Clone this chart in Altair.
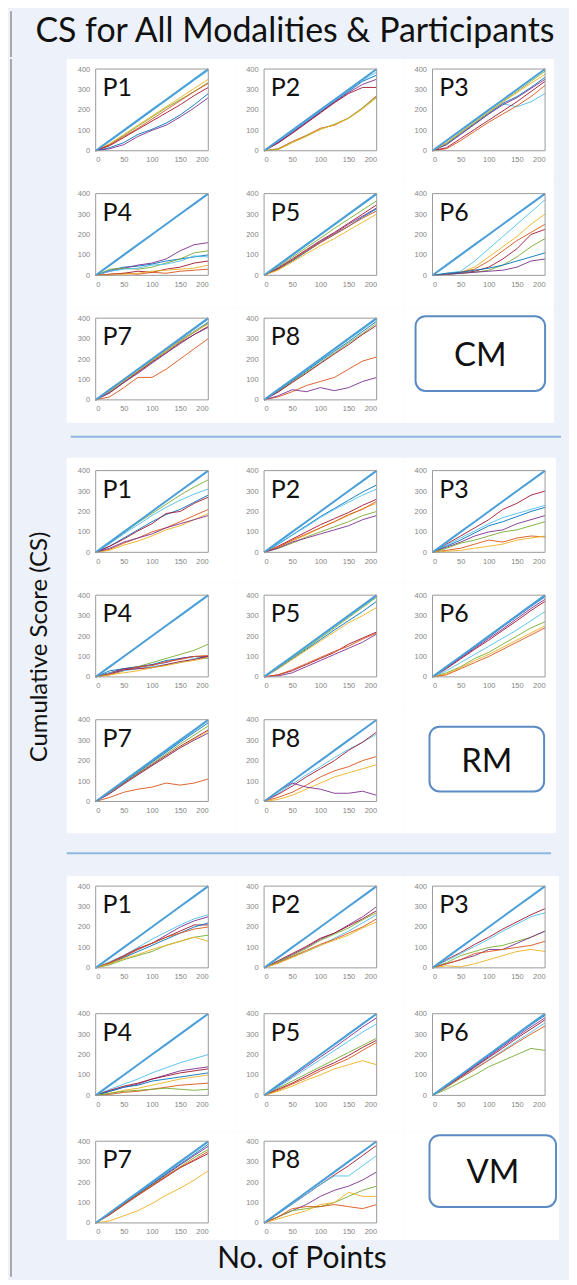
import altair as alt
import pandas as pd

# ---------------- data ----------------
X_POINTS = [0, 25, 50, 75, 100, 125, 150, 175, 200]
IDEAL = [0, 50, 100, 150, 200, 250, 300, 350, 400]
X_TICKS = [0, 50, 100, 150, 200]
Y_TICKS = [0, 100, 200, 300, 400]
SERIES = ["blue", "orange", "yellow", "purple", "green", "lightblue", "red"]
SERIES_COLORS = ["#0072BD", "#D95319", "#EDB120", "#7E2F8E", "#77AC30", "#4DBEEE", "#A2142F"]
IDEAL_COLOR = "#4A9FD9"
PANEL_NAMES = ["P1", "P2", "P3", "P4", "P5", "P6", "P7", "P8"]
MODALITIES = ["CM", "RM", "VM"]
TITLE = "CS for All Modalities & Participants"
Y_TITLE = "Cumulative Score (CS)"
X_TITLE = "No. of Points"

# ---- CM ----
CM_P1 = {
    "lightblue": [0, 45, 95, 145, 195, 245, 295, 345, 392],
    "green": [0, 30, 75, 120, 165, 210, 250, 290, 335],
    "yellow": [0, 35, 80, 125, 170, 215, 260, 305, 350],
    "orange": [0, 30, 70, 110, 155, 200, 245, 290, 330],
    "red": [0, 25, 65, 105, 145, 185, 225, 270, 310],
    "blue": [0, 15, 40, 80, 105, 135, 175, 225, 280],
    "purple": [0, 10, 30, 70, 100, 125, 165, 210, 260],
}
CM_P2 = {
    "lightblue": [0, 45, 95, 145, 195, 245, 295, 345, 385],
    "blue": [0, 40, 90, 140, 190, 240, 290, 340, 370],
    "purple": [0, 40, 88, 138, 188, 238, 285, 325, 350],
    "red": [0, 38, 85, 135, 185, 235, 280, 310, 310],
    "orange": [0, 10, 45, 75, 110, 125, 160, 210, 270],
    "green": [0, 8, 40, 72, 105, 130, 160, 210, 265],
    "yellow": [0, 5, 40, 70, 105, 128, 158, 205, 260],
}
CM_P3 = {
    "lightblue": [0, 30, 80, 130, 180, 230, 215, 240, 280],
    "blue": [0, 35, 85, 135, 185, 232, 265, 310, 360],
    "purple": [0, 30, 80, 130, 180, 225, 260, 305, 350],
    "orange": [0, 10, 50, 95, 140, 180, 220, 265, 320],
    "red": [0, 15, 60, 105, 150, 195, 240, 290, 340],
    "green": [0, 40, 90, 140, 190, 240, 290, 340, 390],
    "yellow": [0, 38, 88, 138, 188, 238, 285, 330, 375],
}
CM_P4 = {
    "blue": [0, 25, 40, 45, 55, 70, 80, 90, 100],
    "purple": [0, 20, 35, 50, 60, 80, 120, 150, 160],
    "green": [0, 30, 35, 30, 40, 60, 80, 110, 120],
    "lightblue": [0, 20, 30, 35, 50, 55, 70, 95, 90],
    "red": [0, 5, 10, 20, 15, 30, 40, 60, 70],
    "orange": [0, 5, 10, 5, 15, 10, 20, 25, 30],
    "yellow": [0, 0, 5, 10, 20, 25, 30, 35, 50],
}
CM_P5 = {
    "lightblue": [0, 45, 95, 145, 195, 245, 295, 345, 395],
    "green": [0, 40, 88, 135, 182, 230, 275, 320, 365],
    "red": [0, 35, 80, 125, 170, 210, 255, 300, 345],
    "purple": [0, 35, 75, 120, 165, 205, 250, 290, 330],
    "blue": [0, 30, 70, 115, 160, 200, 240, 285, 325],
    "orange": [0, 30, 75, 118, 160, 200, 240, 280, 315],
    "yellow": [0, 25, 65, 105, 145, 180, 220, 260, 300],
}
CM_P6 = {
    "lightblue": [0, 10, 20, 70, 130, 190, 250, 310, 370],
    "yellow": [0, 5, 15, 40, 90, 140, 190, 250, 300],
    "orange": [0, 5, 15, 30, 70, 120, 170, 210, 250],
    "red": [0, 5, 10, 20, 40, 80, 130, 200, 225],
    "green": [0, 5, 10, 15, 25, 50, 90, 140, 180],
    "purple": [0, 5, 10, 15, 20, 25, 40, 70, 80],
    "blue": [0, 10, 15, 25, 35, 50, 70, 90, 110],
}
CM_P7 = {
    "lightblue": [0, 45, 95, 145, 195, 245, 295, 345, 395],
    "blue": [0, 42, 92, 140, 190, 240, 290, 335, 380],
    "green": [0, 40, 90, 138, 188, 236, 285, 330, 375],
    "yellow": [0, 42, 92, 140, 190, 240, 288, 335, 370],
    "red": [0, 35, 85, 135, 185, 230, 280, 320, 360],
    "purple": [0, 35, 85, 130, 180, 228, 275, 320, 355],
    "orange": [0, 15, 60, 110, 110, 150, 200, 250, 300],
}
CM_P8 = {
    "lightblue": [0, 45, 95, 145, 195, 245, 295, 345, 395],
    "blue": [0, 43, 92, 140, 190, 238, 285, 335, 385],
    "green": [0, 40, 88, 135, 182, 230, 278, 325, 375],
    "red": [0, 38, 85, 130, 178, 225, 270, 320, 365],
    "orange": [0, 15, 40, 70, 90, 110, 150, 190, 210],
    "purple": [0, 20, 50, 40, 60, 45, 60, 90, 110],
}

# ---- RM ----
RM_P1 = {
    "green": [0, 45, 95, 145, 190, 235, 280, 320, 355],
    "lightblue": [0, 42, 90, 135, 180, 220, 255, 285, 310],
    "blue": [0, 30, 70, 110, 150, 185, 210, 245, 280],
    "red": [0, 30, 65, 105, 140, 190, 200, 240, 270],
    "orange": [0, 15, 45, 70, 100, 120, 150, 180, 210],
    "yellow": [0, 10, 35, 55, 80, 110, 130, 160, 190],
    "purple": [0, 20, 50, 70, 90, 120, 140, 160, 180],
}
RM_P2 = {
    "blue": [0, 40, 85, 130, 175, 215, 255, 295, 330],
    "lightblue": [0, 40, 85, 125, 170, 210, 245, 280, 310],
    "red": [0, 30, 65, 100, 135, 165, 195, 230, 260],
    "yellow": [0, 25, 55, 85, 120, 150, 180, 215, 240],
    "orange": [0, 25, 60, 90, 120, 150, 185, 210, 250],
    "green": [0, 20, 45, 75, 100, 125, 150, 180, 200],
    "purple": [0, 20, 50, 70, 90, 110, 130, 160, 180],
}
RM_P3 = {
    "red": [0, 40, 80, 120, 160, 210, 240, 280, 300],
    "lightblue": [0, 35, 70, 105, 140, 170, 190, 210, 230],
    "blue": [0, 30, 60, 95, 130, 150, 175, 200, 220],
    "purple": [0, 25, 50, 80, 100, 110, 140, 160, 180],
    "green": [0, 20, 45, 60, 80, 100, 110, 130, 150],
    "orange": [0, 10, 20, 40, 60, 50, 70, 80, 75],
    "yellow": [0, 5, 10, 20, 30, 40, 60, 70, 80],
}
RM_P4 = {
    "green": [0, 20, 40, 50, 70, 90, 110, 130, 160],
    "blue": [0, 30, 40, 50, 60, 80, 90, 100, 90],
    "purple": [0, 20, 40, 45, 60, 70, 90, 100, 100],
    "orange": [0, 10, 30, 50, 55, 75, 85, 100, 105],
    "lightblue": [0, 20, 30, 40, 50, 60, 70, 90, 90],
    "red": [0, 15, 35, 40, 45, 60, 75, 85, 100],
    "yellow": [0, 10, 20, 30, 45, 55, 70, 80, 95],
}
RM_P5 = {
    "lightblue": [0, 45, 95, 145, 195, 245, 295, 345, 395],
    "green": [0, 45, 93, 140, 190, 240, 290, 340, 390],
    "blue": [0, 40, 88, 135, 182, 230, 275, 320, 370],
    "yellow": [0, 40, 85, 130, 175, 220, 265, 300, 340],
    "red": [0, 10, 30, 60, 90, 120, 160, 190, 220],
    "purple": [0, 5, 20, 50, 80, 110, 140, 170, 210],
    "orange": [0, 10, 35, 65, 95, 125, 150, 185, 215],
}
RM_P6 = {
    "blue": [0, 45, 95, 145, 195, 245, 295, 345, 392],
    "purple": [0, 45, 92, 140, 188, 235, 285, 335, 380],
    "red": [0, 40, 88, 135, 180, 228, 275, 325, 370],
    "lightblue": [0, 30, 70, 110, 150, 190, 230, 275, 320],
    "green": [0, 20, 50, 90, 120, 160, 200, 240, 270],
    "yellow": [0, 15, 45, 80, 110, 145, 180, 215, 250],
    "orange": [0, 10, 40, 70, 100, 135, 170, 205, 240],
}
RM_P7 = {
    "lightblue": [0, 45, 95, 145, 195, 245, 295, 345, 395],
    "blue": [0, 45, 94, 143, 192, 240, 290, 338, 385],
    "green": [0, 42, 90, 138, 185, 232, 280, 325, 370],
    "red": [0, 40, 88, 135, 180, 225, 270, 310, 350],
    "yellow": [0, 40, 86, 132, 175, 220, 265, 305, 345],
    "purple": [0, 38, 85, 130, 175, 218, 262, 300, 335],
    "orange": [0, 20, 45, 60, 70, 90, 80, 90, 110],
}
RM_P8 = {
    "lightblue": [0, 40, 85, 130, 170, 215, 255, 290, 330],
    "red": [0, 35, 75, 120, 160, 200, 250, 290, 340],
    "orange": [0, 20, 45, 80, 120, 150, 170, 200, 220],
    "yellow": [0, 10, 30, 60, 90, 120, 140, 160, 180],
    "purple": [0, 50, 90, 70, 60, 40, 40, 50, 30],
}

# ---- VM ----
VM_P1 = {
    "lightblue": [0, 30, 60, 100, 140, 175, 210, 240, 260],
    "purple": [0, 25, 55, 90, 120, 160, 200, 230, 250],
    "red": [0, 25, 60, 95, 120, 150, 180, 210, 210],
    "blue": [0, 20, 50, 80, 110, 140, 170, 200, 220],
    "orange": [0, 25, 55, 90, 120, 150, 170, 190, 200],
    "green": [0, 15, 40, 60, 80, 110, 130, 150, 160],
    "yellow": [0, 20, 45, 65, 90, 110, 130, 150, 130],
}
VM_P2 = {
    "purple": [0, 30, 65, 100, 140, 170, 210, 250, 300],
    "red": [0, 35, 70, 105, 145, 170, 205, 240, 280],
    "green": [0, 30, 60, 95, 135, 165, 195, 235, 270],
    "lightblue": [0, 25, 55, 80, 110, 145, 180, 220, 260],
    "orange": [0, 25, 55, 85, 115, 140, 170, 200, 240],
    "yellow": [0, 22, 50, 80, 110, 135, 160, 195, 225],
}
VM_P3 = {
    "red": [0, 40, 75, 115, 150, 190, 225, 260, 290],
    "lightblue": [0, 35, 70, 105, 140, 180, 215, 250, 270],
    "green": [0, 25, 60, 80, 100, 110, 130, 150, 180],
    "purple": [0, 20, 40, 60, 90, 90, 120, 150, 180],
    "orange": [0, 20, 40, 70, 80, 90, 100, 110, 130],
    "yellow": [0, 10, 5, 20, 40, 60, 80, 90, 80],
}
VM_P4 = {
    "lightblue": [0, 30, 55, 80, 110, 135, 160, 180, 200],
    "purple": [0, 20, 40, 55, 80, 100, 120, 130, 140],
    "red": [0, 25, 45, 60, 80, 95, 110, 120, 130],
    "blue": [0, 20, 40, 50, 70, 80, 90, 100, 110],
    "yellow": [0, 10, 25, 35, 50, 65, 80, 90, 100],
    "orange": [0, 5, 15, 20, 30, 40, 50, 55, 60],
    "green": [0, 10, 20, 25, 30, 35, 30, 25, 30],
}
VM_P5 = {
    "purple": [0, 45, 92, 140, 188, 235, 285, 335, 380],
    "lightblue": [0, 40, 85, 130, 175, 220, 265, 310, 350],
    "green": [0, 35, 70, 105, 140, 175, 210, 245, 280],
    "red": [0, 30, 60, 95, 130, 160, 195, 235, 270],
    "orange": [0, 25, 55, 85, 120, 150, 180, 220, 260],
    "yellow": [0, 20, 45, 75, 100, 130, 150, 170, 150],
}
VM_P6 = {
    "blue": [0, 45, 95, 145, 195, 245, 295, 345, 392],
    "purple": [0, 45, 93, 142, 190, 240, 288, 335, 380],
    "red": [0, 43, 90, 138, 185, 232, 280, 325, 370],
    "lightblue": [0, 40, 85, 130, 175, 220, 265, 310, 355],
    "orange": [0, 40, 85, 128, 172, 215, 258, 300, 340],
    "green": [0, 30, 65, 100, 140, 170, 200, 230, 220],
}
VM_P7 = {
    "lightblue": [0, 45, 95, 145, 195, 245, 295, 345, 395],
    "blue": [0, 45, 93, 142, 190, 240, 288, 336, 385],
    "purple": [0, 45, 92, 140, 188, 236, 284, 330, 375],
    "green": [0, 42, 90, 138, 185, 230, 275, 320, 360],
    "red": [0, 40, 88, 135, 180, 225, 270, 305, 340],
    "orange": [0, 42, 89, 136, 182, 228, 272, 310, 350],
    "yellow": [0, 10, 35, 60, 95, 135, 170, 210, 255],
}
VM_P8 = {
    "red": [0, 45, 93, 140, 188, 235, 280, 330, 380],
    "lightblue": [0, 45, 92, 140, 188, 230, 230, 280, 330],
    "purple": [0, 30, 60, 90, 130, 160, 180, 210, 250],
    "green": [0, 30, 60, 70, 80, 100, 130, 160, 180],
    "yellow": [0, 20, 40, 60, 90, 100, 150, 130, 130],
    "orange": [0, 30, 70, 80, 80, 90, 80, 70, 90],
}

GROUPS = {
    "CM": [CM_P1, CM_P2, CM_P3, CM_P4, CM_P5, CM_P6, CM_P7, CM_P8],
    "RM": [RM_P1, RM_P2, RM_P3, RM_P4, RM_P5, RM_P6, RM_P7, RM_P8],
    "VM": [VM_P1, VM_P2, VM_P3, VM_P4, VM_P5, VM_P6, VM_P7, VM_P8],
}

# ---------------- layout ----------------
BG = "#edf1f9"
FONT = "Lato"
BX = 29          # box left offset inside a cell
BW = 113         # box width
BH = 82          # box height
MID_W = 496
LEFT_W = 58
RIGHT_W = 7
TOTAL_W = LEFT_W + MID_W + RIGHT_W   # 561: fits the page body
TITLE_H = 47
XLAB_H = 37

GROUP_LAYOUT = {
    # row heights, column widths, box top offset, label box (x0, x1, y0, y1, text baseline)
    "CM": dict(rows=[125, 125, 115], cols=[169, 169, 151], by=10, lbl=(12, 142, 8, 83, 58)),
    "RM": dict(rows=[125, 125, 127], cols=[169, 169, 153], by=13, lbl=(26, 141, 20, 85, 65)),
    "VM": dict(rows=[128, 128, 109], cols=[169, 169, 156], by=10, lbl=(26, 153, 4, 76, 52)),
}
SEP = [dict(h=35, y=14, x0=4, x1=496), dict(h=43, y=20, x0=0, x1=486)]

color_scale = alt.Scale(domain=SERIES, range=SERIES_COLORS)


def panel(curves, name, cw, ch, by):
    rows = []
    for s, vals in curves.items():
        for xv, yv in zip(X_POINTS, vals):
            rows.append({"x": xv, "y": yv, "series": s})
    df = pd.DataFrame(rows)
    ideal = pd.DataFrame({"x": X_POINTS, "y": IDEAL})
    xs = alt.Scale(domain=[0, 200], range=[BX, BX + BW], nice=False)
    ys = alt.Scale(domain=[0, 400], range=[by + BH, by], nice=False)
    common = dict(grid=False, domain=False, ticks=False, title=None,
                  labelFontSize=7.5, labelColor="#858585", labelFont="Liberation Sans")
    xax = alt.Axis(values=X_TICKS, labelPadding=5, offset=-(ch - (by + BH)), **common)
    yax = alt.Axis(values=Y_TICKS, labelPadding=6, offset=-BX, **common)
    ex = alt.X("x:Q", scale=xs, axis=xax)
    ey = alt.Y("y:Q", scale=ys, axis=yax)
    lines = alt.Chart(df).mark_line(strokeWidth=1, opacity=0.9).encode(
        x=ex, y=ey,
        color=alt.Color("series:N", scale=color_scale, legend=None),
        detail="series:N",
    )
    ideal_line = alt.Chart(ideal).mark_line(color=IDEAL_COLOR, strokeWidth=2).encode(x=ex, y=ey)
    box = alt.Chart(pd.DataFrame({"x": [0], "y": [0], "x2": [200], "y2": [400]})).mark_rect(
        fill="white", fillOpacity=0, stroke="#9a9a9a", strokeWidth=1
    ).encode(x=ex, y=ey, x2="x2:Q", y2="y2:Q")
    label = alt.Chart(pd.DataFrame({"x": [12], "y": [268], "t": [name]})).mark_text(
        align="left", baseline="alphabetic", fontSize=25, font=FONT, color="#111111"
    ).encode(x=ex, y=ey, text="t:N")
    return alt.layer(lines, ideal_line, box, label).properties(
        width=cw, height=ch, view=alt.ViewBackground(fill="white", strokeWidth=0)
    )


def label_cell(text, cw, ch, lbl):
    x0, x1, y0, y1, ty = lbl
    d = pd.DataFrame({"t": [text]})
    rect = alt.Chart(d).mark_rect(
        fill="white", stroke="#5b8bc4", strokeWidth=2, cornerRadius=10
    ).encode(x=alt.value(x0), x2=alt.value(x1), y=alt.value(y0), y2=alt.value(y1))
    txt = alt.Chart(d).mark_text(
        fontSize=33, font=FONT, align="center", baseline="alphabetic", color="#111111"
    ).encode(x=alt.value((x0 + x1) / 2), y=alt.value(ty), text="t:N")
    return alt.layer(rect, txt).properties(
        width=cw, height=ch, view=alt.ViewBackground(fill="white", strokeWidth=0)
    )


def group(mod):
    lay = GROUP_LAYOUT[mod]
    panels = GROUPS[mod]
    rows = []
    for r in range(3):
        cells = []
        for c in range(3):
            idx = r * 3 + c
            ch = lay["rows"][r]
            cw = lay["cols"][c]
            if idx < 8:
                cells.append(panel(panels[idx], PANEL_NAMES[idx], cw, ch, lay["by"]))
            else:
                cells.append(label_cell(mod, cw, ch, lay["lbl"]))
        rows.append(alt.hconcat(*cells, spacing=0))
    return alt.vconcat(*rows, spacing=0)


dummy = pd.DataFrame({"a": [0]})


def separator(s):
    return alt.Chart(dummy).mark_rule(color="#8fb6e0", strokeWidth=2).encode(
        x=alt.value(s["x0"]), x2=alt.value(s["x1"]), y=alt.value(s["y"])
    ).properties(width=MID_W, height=s["h"])


xlabel = alt.Chart(dummy).mark_text(
    text=X_TITLE, fontSize=30, font=FONT, color="#111111", align="center", baseline="alphabetic"
).encode(x=alt.value(236), y=alt.value(28)).properties(width=MID_W, height=XLAB_H)

middle = alt.vconcat(
    group("CM"), separator(SEP[0]), group("RM"), separator(SEP[1]), group("VM"), xlabel,
    spacing=0,
)

MID_H = (sum(sum(GROUP_LAYOUT[m]["rows"]) for m in MODALITIES)
         + SEP[0]["h"] + SEP[1]["h"] + XLAB_H)

left = alt.layer(
    alt.Chart(dummy).mark_rule(color="#a8a8a8", strokeWidth=2).encode(
        x=alt.value(3), y=alt.value(0), y2=alt.value(MID_H)
    ),
    alt.Chart(dummy).mark_text(
        text=Y_TITLE, fontSize=24, font=FONT, color="#111111", angle=270,
        align="center", baseline="middle"
    ).encode(x=alt.value(32), y=alt.value(590)),
).properties(width=LEFT_W, height=MID_H)

right = alt.Chart(dummy).mark_rule(color=BG, strokeWidth=1).encode(
    x=alt.value(3), y=alt.value(0), y2=alt.value(MID_H)
).properties(width=RIGHT_W, height=MID_H)

title_chart = alt.layer(
    alt.Chart(dummy).mark_text(
        text=TITLE, fontSize=34, font=FONT, color="#111111", align="center", baseline="alphabetic"
    ).encode(x=alt.value(288), y=alt.value(32)),
    alt.Chart(dummy).mark_rule(color="#a8a8a8", strokeWidth=2).encode(
        x=alt.value(3), y=alt.value(1), y2=alt.value(TITLE_H)
    ),
).properties(width=TOTAL_W, height=TITLE_H)

chart = alt.vconcat(
    title_chart,
    alt.hconcat(left, middle, right, spacing=0),
    spacing=0,
).properties(background=BG, padding=0).configure_view(strokeWidth=0)

chart.save("out.html", embed_options={"renderer": "svg", "actions": False})
